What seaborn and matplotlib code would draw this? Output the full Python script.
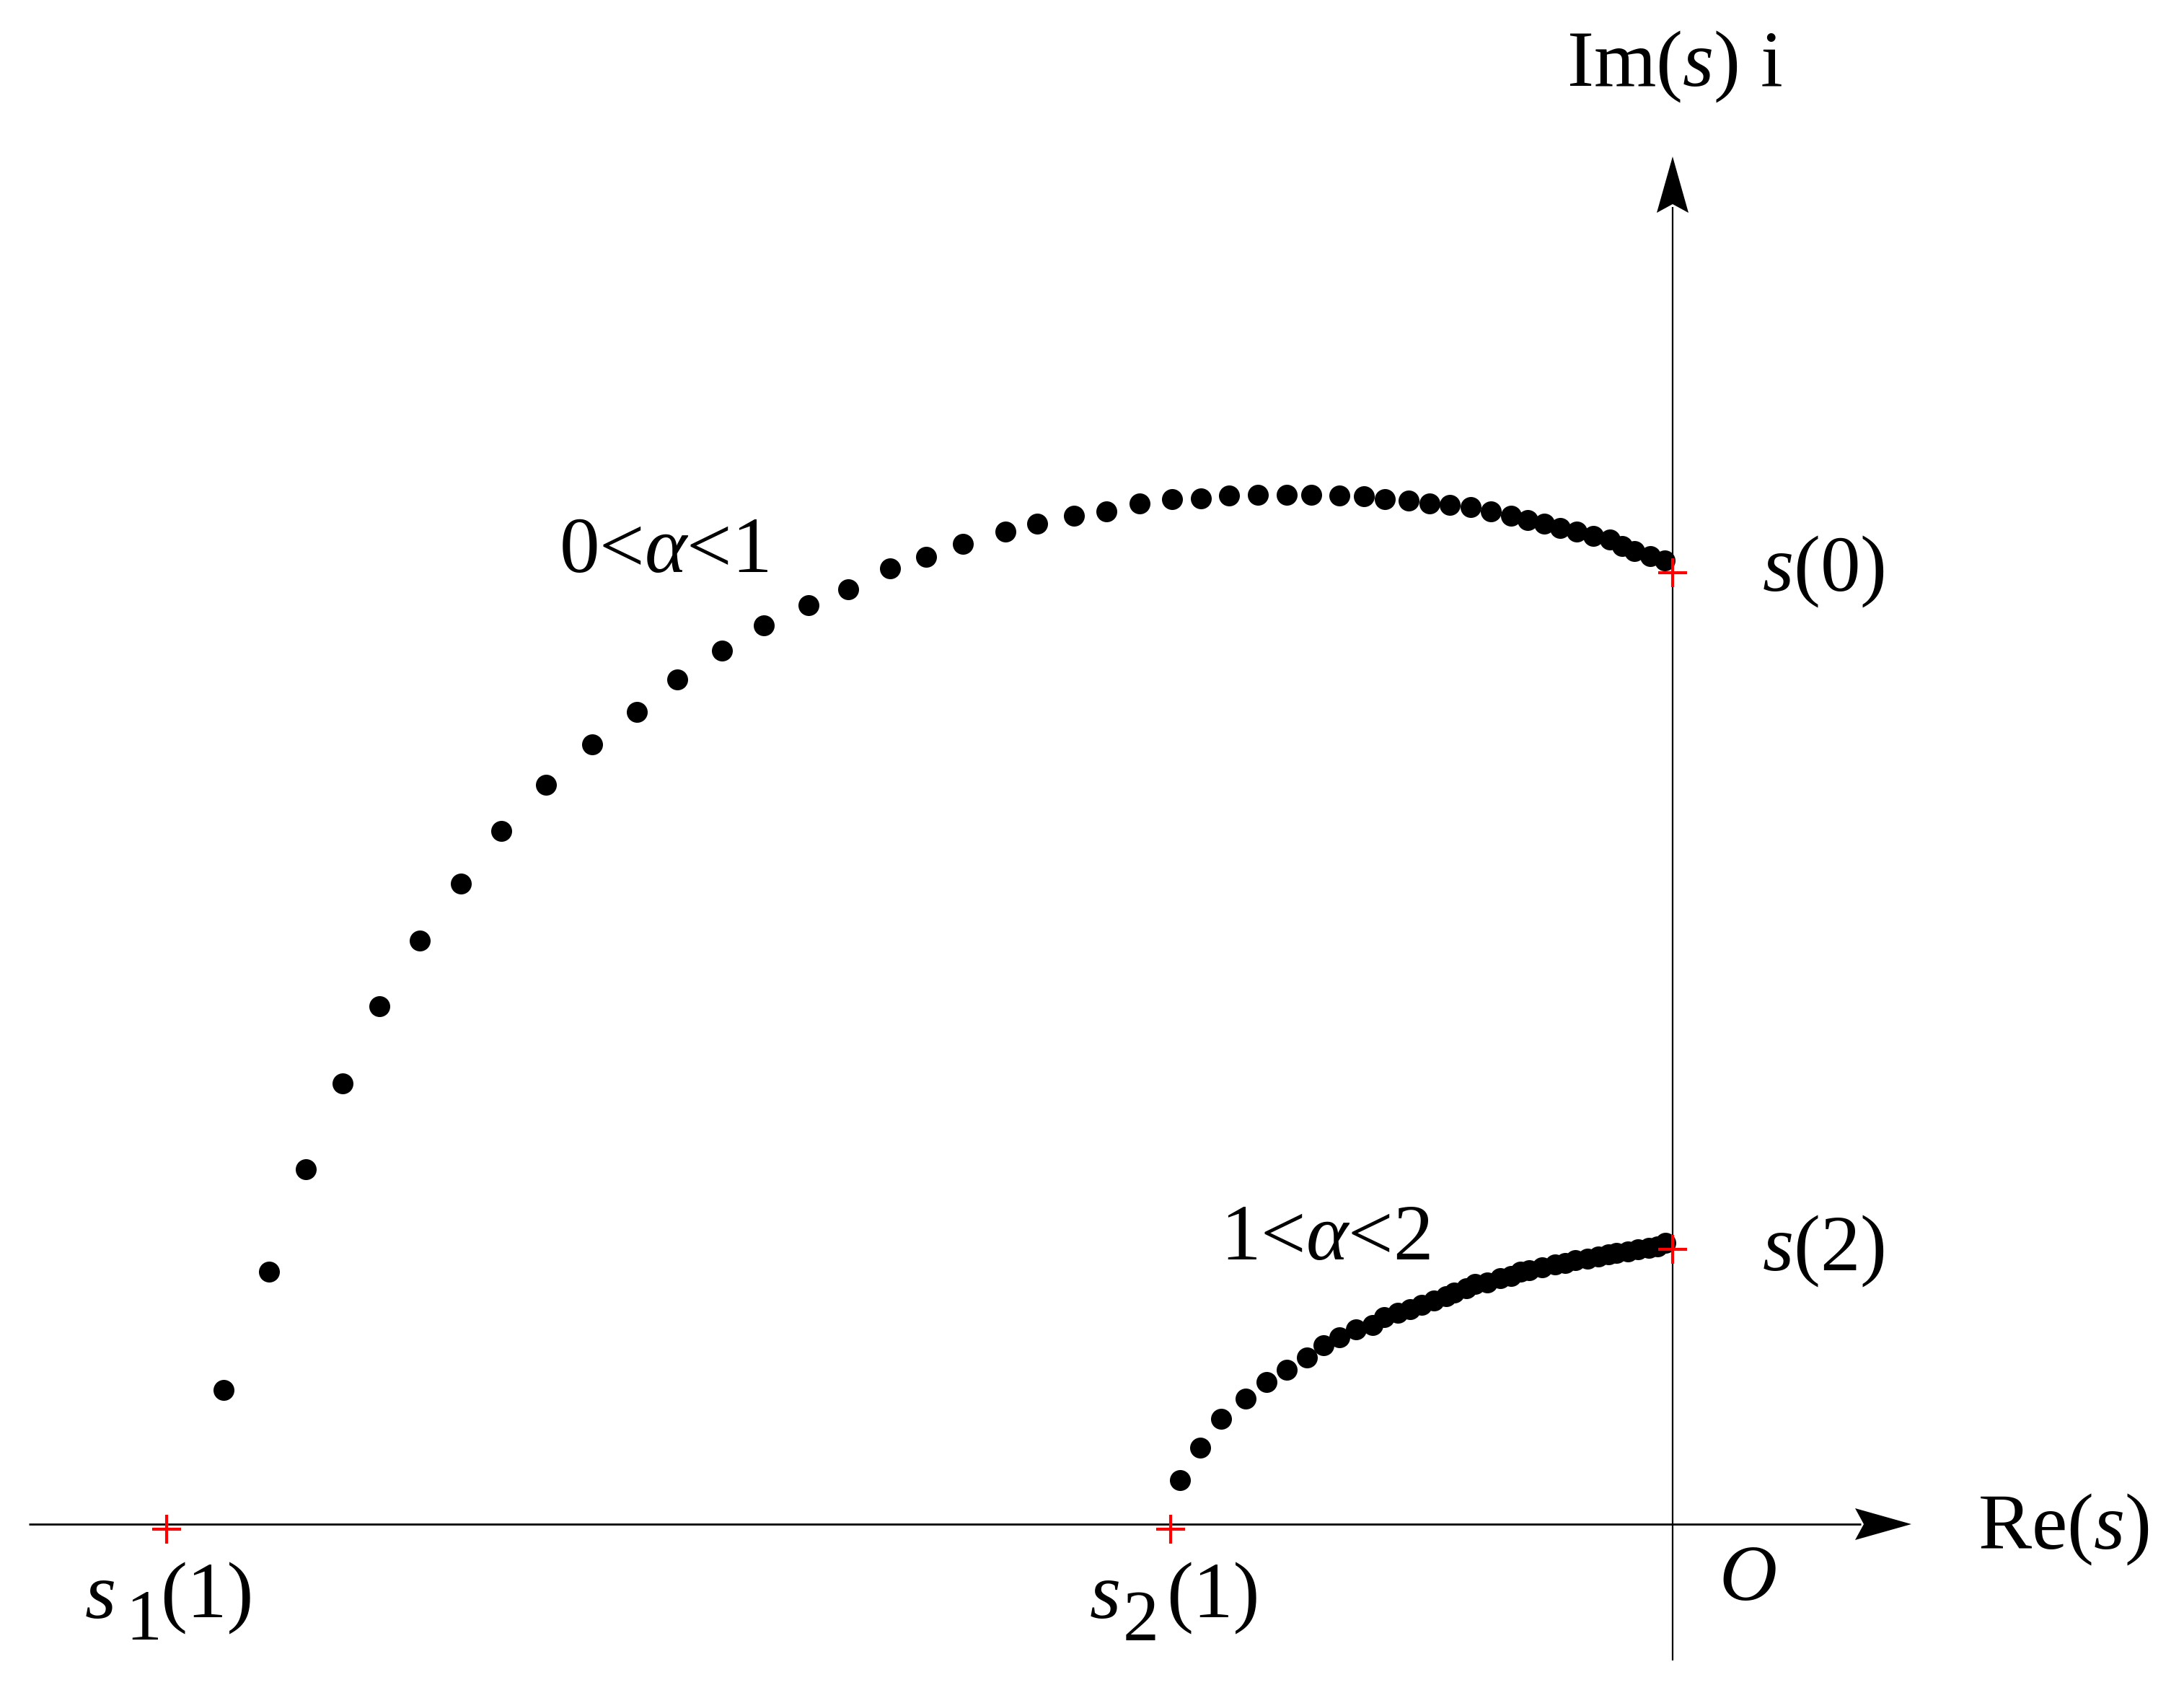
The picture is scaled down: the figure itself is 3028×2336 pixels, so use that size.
import numpy as np
import pandas as pd
import matplotlib
matplotlib.use("Agg")
import matplotlib.pyplot as plt
from matplotlib.patches import Polygon
import seaborn as sns

# ---------------- data (Re, Im) ----------------
re_alpha01 = [-20.09, -19.46, -18.95, -18.44, -17.93, -17.37, -16.80, -16.24, -15.62, -14.98,
              -14.36, -13.80, -13.18, -12.60, -11.98, -11.43, -10.85, -10.35, -9.84, -9.25,
              -8.81, -8.30, -7.85, -7.39, -6.94, -6.54, -6.15, -5.75, -5.35, -5.01,
              -4.62, -4.28, -3.99, -3.66, -3.37, -3.09, -2.80, -2.52, -2.24, -2.01,
              -1.78, -1.56, -1.33, -1.10, -0.87, -0.70, -0.53, -0.31, -0.11]
im_alpha01 = [1.86, 3.50, 4.92, 6.11, 7.18, 8.09, 8.88, 9.61, 10.25, 10.81,
              11.26, 11.71, 12.11, 12.46, 12.74, 12.96, 13.25, 13.41, 13.59, 13.76,
              13.87, 13.98, 14.04, 14.15, 14.21, 14.22, 14.26, 14.27, 14.27, 14.27,
              14.26, 14.25, 14.21, 14.19, 14.15, 14.13, 14.10, 14.04, 13.98, 13.92,
              13.87, 13.81, 13.76, 13.70, 13.65, 13.56, 13.49, 13.42, 13.36]

re_alpha12 = [-6.83, -6.55, -6.26, -5.92, -5.63, -5.35, -5.07, -4.84, -4.62, -4.39,
              -4.16, -4.00, -3.81, -3.64, -3.48, -3.31, -3.14, -3.03, -2.86, -2.74,
              -2.57, -2.39, -2.24, -2.11, -1.99, -1.81, -1.63, -1.49, -1.35, -1.18,
              -1.03, -0.89, -0.78, -0.62, -0.48, -0.33, -0.21, -0.10]
im_alpha12 = [0.61, 1.06, 1.46, 1.74, 1.97, 2.14, 2.31, 2.48, 2.59, 2.70,
              2.76, 2.87, 2.93, 2.98, 3.04, 3.10, 3.16, 3.21, 3.27, 3.33,
              3.35, 3.41, 3.44, 3.50, 3.52, 3.56, 3.60, 3.62, 3.66, 3.68,
              3.71, 3.74, 3.76, 3.78, 3.81, 3.83, 3.85, 3.90]

special_re = [-20.88, -6.96, 0.0, 0.0]
special_im = [-0.07, -0.07, 13.19, 3.81]
special_labels = ["s1(1)", "s2(1)", "s(0)", "s(2)"]

# axis extents
re_axis = (-22.79, 3.31)
im_axis = (-1.89, 18.96)
xlim = (-23.19, 7.09)
ylim = (-2.23, 21.13)

# ---------------- style ----------------
sns.set_theme(style="white")
plt.rcParams["font.family"] = ["Liberation Serif", "DejaVu Serif"]
plt.rcParams["mathtext.fontset"] = "custom"
plt.rcParams["mathtext.rm"] = "Liberation Serif"
plt.rcParams["mathtext.it"] = "Liberation Serif:italic"
plt.rcParams["mathtext.bf"] = "Liberation Serif:bold"
plt.rcParams["text.color"] = "black"

fig = plt.figure(figsize=(15.14, 11.68), dpi=200)
fig.patch.set_facecolor("white")
ax = fig.add_axes([0, 0, 1, 1])
ax.set_facecolor("white")

df1 = pd.DataFrame({"re": re_alpha01, "im": im_alpha01})
df2 = pd.DataFrame({"re": re_alpha12, "im": im_alpha12})
dfs = pd.DataFrame({"re": special_re, "im": special_im, "label": special_labels})

# axis lines
ax.plot([re_axis[0], re_axis[1] - 0.7], [0, 0], color="black", lw=1.0, solid_capstyle="butt")
ax.plot([0, 0], [im_axis[0], im_axis[1] - 0.7], color="black", lw=0.8, solid_capstyle="butt")

# notched arrowheads (length, half-width, notch in data units)
head_len, head_hw, notch = 0.78, 0.22, 0.66
tip = re_axis[1]
ax.add_patch(Polygon([(tip, 0), (tip - head_len, head_hw), (tip - notch, 0),
                      (tip - head_len, -head_hw)], closed=True, color="black", lw=0))
tip = im_axis[1]
ax.add_patch(Polygon([(0, tip), (head_hw, tip - head_len), (0, tip - notch),
                      (-head_hw, tip - head_len)], closed=True, color="black", lw=0))

sns.scatterplot(data=df1, x="re", y="im", ax=ax, color="black", s=109, linewidth=0, zorder=3)
sns.scatterplot(data=df2, x="re", y="im", ax=ax, color="black", s=109, linewidth=0, zorder=3)
sns.scatterplot(data=dfs, x="re", y="im", ax=ax, color="red", marker="+", s=207,
                linewidth=1.5, zorder=4)

fs = 40
kw = dict(fontsize=fs, ha="left", va="baseline", color="black")
ax.text(-1.47, 19.94, r"Im($s$) i", **kw)
ax.text(4.23, -0.33, r"Re($s$)", **kw)
ax.text(0.64, -1.05, r"$O$", **kw)
ax.text(1.24, 12.95, r"$s$(0)", **kw)
ax.text(1.24, 3.53, r"$s$(2)", **kw)
ax.text(-15.44, 13.20, r"0<$\alpha$<1", **kw)
ax.text(-6.27, 3.67, r"1<$\alpha$<2", **kw)

# s_1(1) and s_2(1) with large, low subscripts
sub_kw = dict(kw, fontsize=36)
ax.text(-22.02, -1.30, r"$s$", **kw)
ax.text(-21.45, -1.60, "1", **sub_kw)
ax.text(-20.97, -1.30, "(1)", **kw)
ax.text(-8.09, -1.30, r"$s$", **kw)
ax.text(-7.62, -1.60, "2", **sub_kw)
ax.text(-7.02, -1.30, "(1)", **kw)

ax.set_xlim(*xlim)
ax.set_ylim(*ylim)
ax.set_axis_off()

fig.savefig("out.png", dpi=200, facecolor="white")
